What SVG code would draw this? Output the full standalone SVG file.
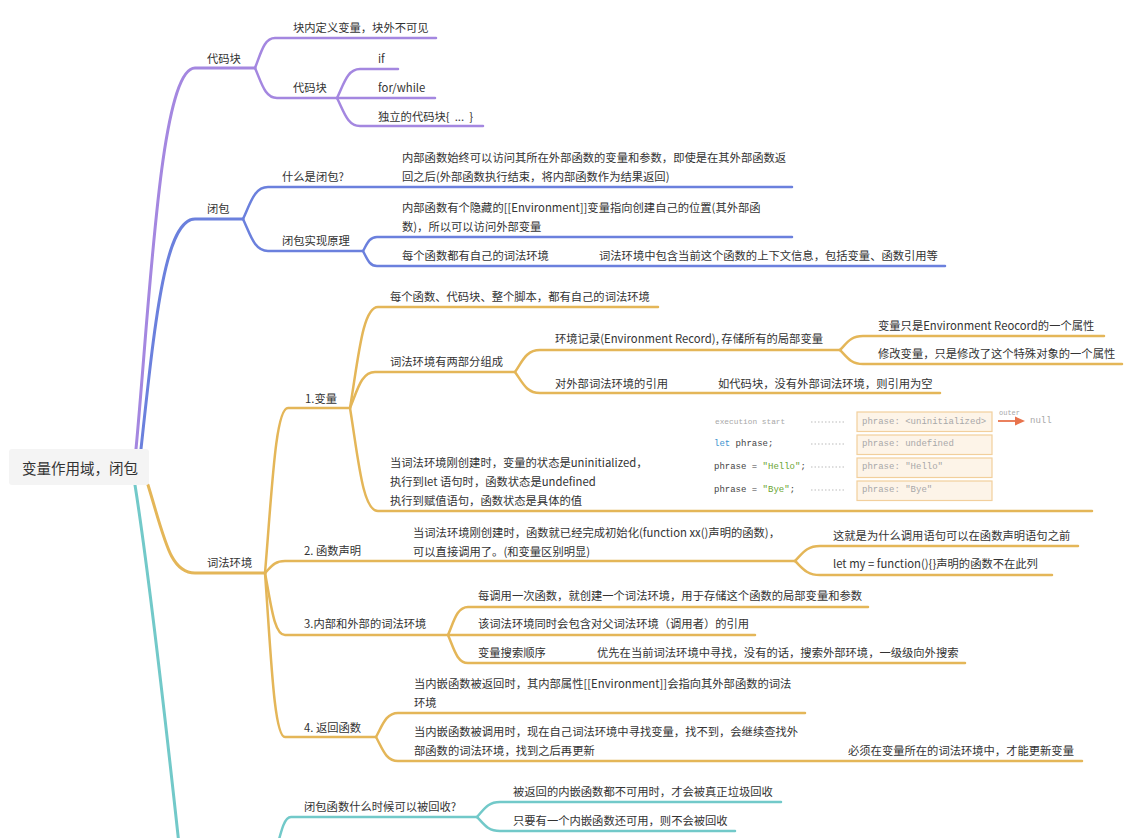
<svg xmlns="http://www.w3.org/2000/svg" width="1143" height="838" viewBox="0 0 1143 838">
<style>
.t{font-family:"Noto Sans CJK SC","Noto Sans",sans-serif;font-size:11.3px;fill:#333;dominant-baseline:central}
.root{font-family:"Noto Sans CJK SC","Noto Sans",sans-serif;font-size:14.5px;fill:#333;dominant-baseline:central}
.c{fill:none;stroke-width:2.5;stroke-linecap:round}
.m{fill:none;stroke-width:3;stroke-linecap:round}
.pu{stroke:#a487e0}.bl{stroke:#6b80dd}.go{stroke:#e4b658}.te{stroke:#72c9c9}
.code{font-family:"Liberation Mono","DejaVu Sans Mono",monospace;font-size:9px;fill:#444;dominant-baseline:central}
.gray{fill:#a8a8a8}
.box{fill:#fdf4e8;stroke:#f2cf9c;stroke-width:1.2}
.dots{stroke:#bbb;stroke-width:1;stroke-dasharray:1.5 2}
</style>
<rect width="1143" height="838" fill="#fff"/>
<g id="connectors">
<path class="m pu" d="M136,449 C150,300 160,68 195,68 H255"/>
<path class="c pu" d="M255,68 C261,53 264,38 275,38 H436"/>
<path class="c pu" d="M255,68 C261.6,83 264.9,98 277,98 H435"/>
<path class="c pu" d="M337,98 C344,83.5 347.4,69 360,69 H398"/>
<path class="c pu" d="M337,98 C344,112 347.4,126 360,126 H483"/>
<path class="m bl" d="M141,449 C155,320 165,219 195,219 H243"/>
<path class="c bl" d="M243,219 C250.5,203 254.3,187 268,187 H792"/>
<path class="c bl" d="M243,219 C250.5,235 254.3,251 268,251 H363"/>
<path class="c bl" d="M363,251 C367,244 369.3,237 377,237 H792"/>
<path class="c bl" d="M363,251 C367,258.5 369.3,266 377,266 H945"/>
<path class="m go" d="M148,485 C165,540 170,573 195,573 H265"/>
<path class="c go" d="M265,573 C272,490 275.4,408 288,408 H350"/>
<path class="c go" d="M350,408 C358.4,357.5 362.6,307 378,307 H658"/>
<path class="c go" d="M350,408 C357.5,390 361.25,372 375,372 H515"/>
<path class="c go" d="M515,372 C522.5,361 526.25,350 540,350 H840"/>
<path class="c go" d="M840,350 C847,343 850.4,336 863,336 H1104"/>
<path class="c go" d="M840,350 C847,357 850.4,364 863,364 H1122"/>
<path class="c go" d="M515,372 C522.5,382.5 526.25,393 540,393 H940"/>
<path class="c go" d="M350,408 C358.4,459.5 362.6,511 378,511 H1092"/>
<path class="c go" d="M265,573 C271,567 274,561 285,561 H795"/>
<path class="c go" d="M795,561 C802.5,553.5 806.25,546 820,546 H1078"/>
<path class="c go" d="M795,561 C802.5,568 806.25,575 820,575 H1052"/>
<path class="c go" d="M265,573 C271,604 274,635 285,635 H755"/>
<path class="c go" d="M448,635 C454,621 457,607 468,607 H868"/>
<path class="c go" d="M448,635 C454,649 457,663 468,663 H965"/>
<path class="c go" d="M265,573 C271,655 274,737 285,737 H376"/>
<path class="c go" d="M376,737 C382.6,725 385.9,713 398,713 H805"/>
<path class="c go" d="M376,737 C382.6,749 385.9,761 398,761 H1082"/>
<path class="m te" d="M135,485 C150,580 170,760 185,900"/>
<path class="c te" d="M268,880 C280,840 282,817 291,817 H477"/>
<path class="c te" d="M477,817 C484,809.5 487.35,802 500,802 H781"/>
<path class="c te" d="M477,817 C484,824 487.35,831 500,831 H735"/>
</g>
<g id="root">
<rect x="9" y="449" width="140" height="36" rx="3" fill="#f4f4f4"/>
<text class="root" x="22" y="467">变量作用域，闭包</text>
</g>
<g id="n-daimakuai"><text class="t" x="207" y="58">代码块</text></g>
<g id="n-kuainei"><text class="t" x="293" y="27">块内定义变量，块外不可见</text></g>
<g id="n-daimakuai2"><text class="t" x="293" y="87">代码块</text></g>
<g id="n-if"><text class="t" x="378" y="58">if</text></g>
<g id="n-for"><text class="t" x="378" y="87">for/while</text></g>
<g id="n-duli"><text class="t" x="378" y="116" xml:space="preserve">独立的代码块{  ...  }</text></g>
<g id="n-bibao"><text class="t" x="207" y="208">闭包</text></g>
<g id="n-shenme"><text class="t" x="282" y="176">什么是闭包?</text></g>
<g id="n-shenme-a"><text class="t" x="402" y="157">内部函数始终可以访问其所在外部函数的变量和参数，即使是在其外部函数返</text><text class="t" x="402" y="176">回之后(外部函数执行结束，将内部函数作为结果返回)</text></g>
<g id="n-yuanli"><text class="t" x="282" y="240">闭包实现原理</text></g>
<g id="n-yuanli-a"><text class="t" x="402" y="207">内部函数有个隐藏的[[Environment]]变量指向创建自己的位置(其外部函</text><text class="t" x="402" y="226">数)，所以可以访问外部变量</text></g>
<g id="n-yuanli-b"><text class="t" x="402" y="255">每个函数都有自己的词法环境</text></g>
<g id="n-yuanli-b1"><text class="t" x="599" y="255">词法环境中包含当前这个函数的上下文信息，包括变量、函数引用等</text></g>
<g id="n-cifa"><text class="t" x="207" y="562">词法环境</text></g>
<g id="n-bianliang"><text class="t" x="305" y="398">1.变量</text></g>
<g id="n-b1"><text class="t" x="390" y="296">每个函数、代码块、整个脚本，都有自己的词法环境</text></g>
<g id="n-b2"><text class="t" x="390" y="361">词法环境有两部分组成</text></g>
<g id="n-b21"><text class="t" x="555" y="338">环境记录(Environment Record), 存储所有的局部变量</text></g>
<g id="n-b211"><text class="t" x="878" y="325">变量只是Environment Reocord的一个属性</text></g>
<g id="n-b212"><text class="t" x="878" y="353">修改变量，只是修改了这个特殊对象的一个属性</text></g>
<g id="n-b22"><text class="t" x="555" y="383">对外部词法环境的引用</text></g>
<g id="n-b221"><text class="t" x="718" y="383">如代码块，没有外部词法环境，则引用为空</text></g>
<g id="n-b3">
<text class="t" x="390" y="462">当词法环境刚创建时，变量的状态是uninitialized，</text>
<text class="t" x="390" y="481">执行到let 语句时，函数状态是undefined</text>
<text class="t" x="390" y="500">执行到赋值语句，函数状态是具体的值</text>
</g>
<g id="n-b3-figure">
<text class="code gray" x="715" y="422" style="font-size:7.8px">execution start</text>
<line class="dots" x1="811" y1="422" x2="845" y2="422"/>
<line class="dots" x1="811" y1="444" x2="845" y2="444"/>
<line class="dots" x1="811" y1="467" x2="845" y2="467"/>
<line class="dots" x1="811" y1="490" x2="845" y2="490"/>
<rect class="box" x="857" y="412" width="135" height="19.5"/>
<rect class="box" x="857" y="435" width="135" height="19.5"/>
<rect class="box" x="857" y="458" width="135" height="19.5"/>
<rect class="box" x="857" y="481" width="135" height="19.5"/>
<text class="code gray" x="862" y="422">phrase: &lt;uninitialized&gt;</text>
<text class="code gray" x="862" y="444">phrase: undefined</text>
<text class="code gray" x="862" y="467">phrase: "Hello"</text>
<text class="code gray" x="862" y="490">phrase: "Bye"</text>
<text class="code" x="714" y="444"><tspan fill="#3e95d0">let</tspan> phrase;</text>
<text class="code" x="714" y="467">phrase = <tspan fill="#6aa532">"Hello"</tspan>;</text>
<text class="code" x="714" y="490">phrase = <tspan fill="#6aa532">"Bye"</tspan>;</text>
<text class="code gray" x="999" y="413" style="font-size:7px">outer</text>
<line x1="998" y1="421" x2="1017" y2="421" stroke="#e8734c" stroke-width="1.8"/>
<polygon points="1015,416.5 1025,421 1015,425.5" fill="#e8734c"/>
<text class="code gray" x="1030" y="421">null</text>
</g>
<g id="n-hanshu"><text class="t" x="304" y="550">2. 函数声明</text></g>
<g id="n-h1"><text class="t" x="413" y="532">当词法环境刚创建时，函数就已经完成初始化(function xx()声明的函数)，</text><text class="t" x="413" y="551">可以直接调用了。(和变量区别明显)</text></g>
<g id="n-h11"><text class="t" x="833" y="535">这就是为什么调用语句可以在函数声明语句之前</text></g>
<g id="n-h12"><text class="t" x="833" y="563">let my = function(){}声明的函数不在此列</text></g>
<g id="n-neibu"><text class="t" x="304" y="623">3.内部和外部的词法环境</text></g>
<g id="n-n1"><text class="t" x="478" y="595">每调用一次函数，就创建一个词法环境，用于存储这个函数的局部变量和参数</text></g>
<g id="n-n2"><text class="t" x="478" y="623">该词法环境同时会包含对父词法环境（调用者）的引用</text></g>
<g id="n-n3"><text class="t" x="478" y="652">变量搜索顺序</text></g>
<g id="n-n31"><text class="t" x="597" y="652">优先在当前词法环境中寻找，没有的话，搜索外部环境，一级级向外搜索</text></g>
<g id="n-fanhui"><text class="t" x="304" y="727">4. 返回函数</text></g>
<g id="n-f1"><text class="t" x="414" y="683">当内嵌函数被返回时，其内部属性[[Environment]]会指向其外部函数的词法</text><text class="t" x="414" y="702">环境</text></g>
<g id="n-f2"><text class="t" x="414" y="731">当内嵌函数被调用时，现在自己词法环境中寻找变量，找不到，会继续查找外</text><text class="t" x="414" y="750">部函数的词法环境，找到之后再更新</text></g>
<g id="n-f21"><text class="t" x="848" y="750">必须在变量所在的词法环境中，才能更新变量</text></g>
<g id="n-huishou"><text class="t" x="304" y="806">闭包函数什么时候可以被回收?</text></g>
<g id="n-hs1"><text class="t" x="513" y="791">被返回的内嵌函数都不可用时，才会被真正垃圾回收</text></g>
<g id="n-hs2"><text class="t" x="513" y="820">只要有一个内嵌函数还可用，则不会被回收</text></g>
</svg>
